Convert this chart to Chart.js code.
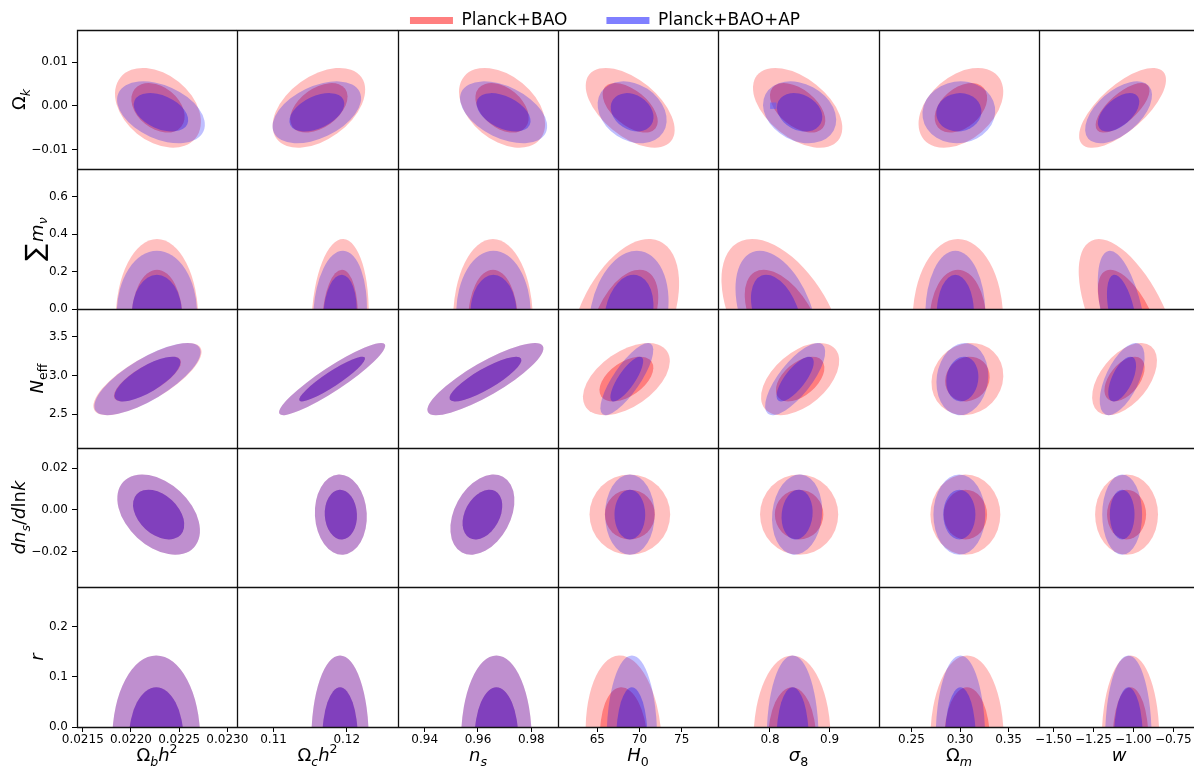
<!DOCTYPE html>
<html lang="en">
<head>
<meta charset="UTF-8">
<title>Planck+BAO vs Planck+BAO+AP</title>
<script src="https://cdn.jsdelivr.net/npm/chart.js"></script>
<style>
  html, body { margin: 0; padding: 0; background: #fff; overflow: hidden; }
  body { width: 1194px; height: 766px; position: relative; }
  canvas { position: absolute; }
</style>
</head>
<body>
<script>
// ---- data ----
const seriesNames = ['Planck+BAO', 'Planck+BAO+AP'];

// columns: Ωbh², Ωch², ns, H0, σ8, Ωm, w
const xMin = [0.02144, 0.1050, 0.93, 60.35, 0.7127, 0.2166, -1.5906];
const xMax = [0.02310, 0.1270, 0.99, 79.30, 0.9830, 0.3813, -0.589];
const xTickVals = [
  [0.0215, 0.0220, 0.0225, 0.0230], [0.11, 0.12], [0.94, 0.96, 0.98],
  [65, 70, 75], [0.8, 0.9], [0.25, 0.30, 0.35], [-1.5, -1.25, -1.0, -0.75]
];
const xTickText = [
  ['0.0215', '0.0220', '0.0225', '0.0230'], ['0.11', '0.12'], ['0.94', '0.96', '0.98'],
  ['65', '70', '75'], ['0.8', '0.9'], ['0.25', '0.30', '0.35'],
  ['\u22121.50', '\u22121.25', '\u22121.00', '\u22120.75']
];

// rows: Ωk, Σmν, Neff, dns/dlnk, r
const yMin = [-0.0145, 0, 2.06, -0.0371, 0];
const yMax = [0.0174, 0.747, 3.862, 0.0297, 0.279];
const yTickVals = [
  [-0.01, 0, 0.01], [0, 0.2, 0.4, 0.6], [2.5, 3.0, 3.5], [-0.02, 0, 0.02], [0, 0.1, 0.2]
];
const yTickText = [
  ['\u22120.01', '0.00', '0.01'], ['0.0', '0.2', '0.4', '0.6'], ['2.5', '3.0', '3.5'],
  ['\u22120.02', '0.00', '0.02'], ['0.0', '0.1', '0.2']
];

// Planck+BAO: means / sigmas / correlations per row (model) and column
const redXMean = [
  [0.022280, 0.11619, 0.96902, 68.90, 0.8464, 0.3009, -1.0675],
  [0.022270, 0.11908, 0.96560, 68.20, 0.8214, 0.2978, -1.027],
  [0.022171, 0.11800, 0.96278, 68.45, 0.8506, 0.3076, -1.055],
  [0.022287, 0.11919, 0.96165, 68.86, 0.8489, 0.3055, -1.0425],
  [0.022262, 0.11908, 0.96690, 68.13, 0.8371, 0.3072, -1.0175]
];
const redXSig = [
  [0.000182, 0.00258, 0.00659, 2.15, 0.0306, 0.0178, 0.111],
  [0.000175, 0.00160, 0.00610, 2.65, 0.0420, 0.0190, 0.1286],
  [0.000229, 0.00296, 0.00888, 2.10, 0.0268, 0.0151, 0.0829],
  [0.000175, 0.00145, 0.00490, 1.95, 0.0268, 0.0147, 0.0804],
  [0.000186, 0.00160, 0.00540, 1.84, 0.0264, 0.0154, 0.0735]
];
const redRho = [
  [-0.35, 0.45, -0.4, -0.55, -0.5, 0.4, 0.7],
  [0, 0.1, 0, 0.45, -0.5, 0, -0.6],
  [0.75, 0.92, 0.85, 0.5, 0.5, 0.1, 0.5],
  [-0.4, -0.05, 0.35, 0, 0, 0, 0],
  [0, 0, 0, -0.1, 0, 0, 0]
];
const redYMean = [-0.00046, -0.058, 2.954, -0.0023, -0.024];
const redYSig = [0.00374, 0.176, 0.191, 0.00787, 0.068];

// Planck+BAO+AP
const blueXMean = [
  [0.022311, 0.11591, 0.96959, 69.13, 0.8497, 0.2988, -1.0925],
  [0.022269, 0.11908, 0.96580, 68.74, 0.8104, 0.2952, -1.071],
  [0.022171, 0.11800, 0.96278, 68.50, 0.8422, 0.3024, -1.07],
  [0.022287, 0.11919, 0.96165, 68.86, 0.8455, 0.2993, -1.07],
  [0.022262, 0.11908, 0.96690, 69.10, 0.8380, 0.3004, -1.031]
];
const blueXSig = [
  [0.000186, 0.00247, 0.00667, 1.67, 0.0251, 0.0153, 0.0855],
  [0.000170, 0.00150, 0.00570, 1.92, 0.0279, 0.0126, 0.062],
  [0.000225, 0.00296, 0.00888, 1.28, 0.0206, 0.0109, 0.0574],
  [0.000175, 0.00145, 0.00490, 1.20, 0.0172, 0.0109, 0.051],
  [0.000186, 0.00160, 0.00540, 1.22, 0.0178, 0.0104, 0.0595]
];
const blueRho = [
  [-0.4, 0.45, -0.45, -0.25, -0.25, 0.05, 0.55],
  [0, 0.1, 0, 0.2, -0.4, 0, -0.5],
  [0.75, 0.92, 0.85, 0.8, 0.75, 0.1, 0.6],
  [-0.4, -0.05, 0.35, 0, 0.1, 0, 0],
  [0, 0, 0, 0, 0, 0, 0]
];
const blueYMean = [-0.00149, -0.025, 2.954, -0.0023, -0.024];
const blueYSig = [0.0029, 0.137, 0.191, 0.00787, 0.068];

// 95% and 68% contour radii
const levels = [2.45, 1.52];

// small blue square in the Ωk–σ8 panel
const blueSquare = [{ x: 0.8055, y: 0.00003 }];

// axis labels (mathtext-like pieces)
const xLabels = [
  [{ t: 'Ω' }, { t: 'b', it: 1, sub: 1 }, { t: 'h', it: 1 }, { t: '2', sup: 1 }],
  [{ t: 'Ω' }, { t: 'c', it: 1, sub: 1 }, { t: 'h', it: 1 }, { t: '2', sup: 1 }],
  [{ t: 'n', it: 1 }, { t: 's', it: 1, sub: 1 }],
  [{ t: 'H', it: 1 }, { t: '0', sub: 1 }],
  [{ t: 'σ', it: 1 }, { t: '8', sub: 1 }],
  [{ t: 'Ω' }, { t: 'm', it: 1, sub: 1 }],
  [{ t: 'w', it: 1 }]
];
const yLabels = [
  [{ t: 'Ω' }, { t: 'k', it: 1, sub: 1 }],
  [{ t: '∑', big: 1 }, { t: 'm', it: 1 }, { t: 'ν', it: 1, sub: 1 }],
  [{ t: 'N', it: 1 }, { t: 'eff', sub: 1 }],
  [{ t: 'dn', it: 1 }, { t: 's', it: 1, sub: 1 }, { t: '/' }, { t: 'd', it: 1 }, { t: 'ln' }, { t: 'k', it: 1 }],
  [{ t: 'r', it: 1 }]
];

// ---- styling / layout ----
const redFills = ['rgba(255,0,0,0.25)', 'rgba(255,0,0,0.35)'];
const blueFills = ['rgba(0,0,255,0.25)', 'rgba(0,0,255,0.32)'];
const legendColors = ['rgba(255,0,0,0.5)', 'rgba(0,0,255,0.5)'];
const FONT = '"DejaVu Sans", sans-serif';
const TICK_SIZE = 12;
const TITLE_SIZE = 18;
const colEdges = [77, 237, 398, 558, 718, 879, 1039, 1199];
const rowEdges = [30, 169, 309, 448, 587, 727];
const M = 25;           // overlap margin round each panel canvas
const Y_AXIS_W = 77;
const X_AXIS_H = 39;

function segStyle(s, size) {
  let sz = size;
  if (s.sub || s.sup) sz = size * 0.7;
  if (s.big) sz = size * 1.4;
  return {
    font: (s.it ? 'italic ' : '') + sz.toFixed(1) + 'px ' + FONT,
    dy: s.sub ? size * 0.25 : (s.sup ? -size * 0.42 : 0),
    gap: s.big ? size * 0.1 : 0
  };
}
function richWidth(ctx, segs, size) {
  let w = 0;
  segs.forEach(s => { const st = segStyle(s, size); ctx.font = st.font; w += ctx.measureText(s.t).width + st.gap; });
  return w;
}
function drawRich(ctx, segs, x, y, size) {
  segs.forEach(s => {
    const st = segStyle(s, size);
    ctx.font = st.font;
    ctx.fillText(s.t, x, y + st.dy);
    x += ctx.measureText(s.t).width + st.gap;
  });
}

// filled gaussian contours, drawn through the chart's scales
const contourPlugin = {
  id: 'contours',
  beforeDatasetsDraw(chart, args, o) {
    const { ctx, chartArea: a, scales: { x, y } } = chart;
    ctx.save();
    ctx.beginPath();
    ctx.rect(a.left, a.top, a.right - a.left, a.bottom - a.top);
    ctx.clip();
    o.fits.forEach(f => {
      const px = x.getPixelForValue(f.mx), py = y.getPixelForValue(f.my);
      const ux = x.getPixelForValue(f.mx + f.sx) - px;
      const uy = y.getPixelForValue(f.my + f.sy) - py;
      const sxx = ux * ux, syy = uy * uy, sxy = f.rho * ux * uy;
      const mid = (sxx + syy) / 2;
      const d = Math.sqrt(((sxx - syy) / 2) ** 2 + sxy * sxy);
      const th = 0.5 * Math.atan2(2 * sxy, sxx - syy);
      levels.forEach((k, i) => {
        ctx.beginPath();
        ctx.ellipse(px, py, k * Math.sqrt(mid + d), k * Math.sqrt(Math.max(mid - d, 0)), th, 0, 2 * Math.PI);
        ctx.fillStyle = f.fills[i];
        ctx.fill();
      });
    });
    ctx.restore();
  }
};

// panel spines and axis titles
const framePlugin = {
  id: 'frame',
  afterDraw(chart, args, o) {
    const { ctx, chartArea: a } = chart;
    ctx.save();
    ctx.strokeStyle = '#111';
    ctx.lineWidth = 1.3;
    ctx.beginPath();
    ctx.moveTo(a.left + 0.5, a.bottom); ctx.lineTo(a.left + 0.5, a.top + 0.5); ctx.lineTo(a.right, a.top + 0.5);
    if (o.right) { ctx.moveTo(a.right - 0.5, a.top); ctx.lineTo(a.right - 0.5, a.bottom); }
    if (o.bottom) { ctx.moveTo(a.left, a.bottom + 0.5); ctx.lineTo(a.right, a.bottom + 0.5); }
    ctx.stroke();

    ctx.fillStyle = '#000';
    ctx.textAlign = 'left';
    ctx.textBaseline = 'alphabetic';
    if (o.xTitle) {
      const w = richWidth(ctx, o.xTitle, TITLE_SIZE);
      drawRich(ctx, o.xTitle, (a.left + a.right) / 2 - w / 2, a.bottom + 34, TITLE_SIZE);
    }
    if (o.yTitle) {
      ctx.font = TICK_SIZE + 'px ' + FONT;
      const lw = Math.max(...chart.scales.y.ticks.map(t => ctx.measureText(t.label).width));
      const base = a.left - 5 - 4 - lw - 6;
      const w = richWidth(ctx, o.yTitle, TITLE_SIZE);
      ctx.translate(base, (a.top + a.bottom) / 2);
      ctx.rotate(-Math.PI / 2);
      drawRich(ctx, o.yTitle, -w / 2, 0, TITLE_SIZE);
    }
    ctx.restore();
  }
};

function makeCanvas(left, top, width, height) {
  const cv = document.createElement('canvas');
  cv.width = width; cv.height = height;
  cv.style.left = left + 'px'; cv.style.top = top + 'px';
  cv.style.width = width + 'px'; cv.style.height = height + 'px';
  document.body.appendChild(cv);
  return cv;
}

function axisOptions(showX, showY, r, c) {
  const tickFont = { family: FONT, size: TICK_SIZE };
  const grid = { display: true, drawOnChartArea: false, drawTicks: true, tickLength: 5, color: '#000', lineWidth: 1 };
  const x = {
    type: 'linear', display: showX, min: xMin[c], max: xMax[c],
    afterBuildTicks: s => { s.ticks = xTickVals[c].map(v => ({ value: v })); },
    ticks: { autoSkip: false, maxRotation: 0, minRotation: 0, padding: 1, color: '#000', font: tickFont,
             callback: (v, i) => xTickText[c][i] },
    grid: grid, border: { display: false }
  };
  const y = {
    type: 'linear', display: showY, min: yMin[r], max: yMax[r],
    afterBuildTicks: s => { s.ticks = yTickVals[r].map(v => ({ value: v })); },
    ticks: { autoSkip: false, padding: 4, color: '#000', font: tickFont,
             callback: (v, i) => yTickText[r][i] },
    grid: grid, border: { display: false }
  };
  if (showX) x.afterFit = s => { s.height = X_AXIS_H; s.paddingLeft = 0; s.paddingRight = 0; };
  if (showY) y.afterFit = s => { s.width = Y_AXIS_W; s.paddingTop = 0; s.paddingBottom = 0; };
  return { x, y };
}

for (let r = 0; r < 5; r++) {
  for (let c = 0; c < 7; c++) {
    const showX = r === 4, showY = c === 0;
    const left = showY ? colEdges[0] - Y_AXIS_W : colEdges[c] - M;
    const top = rowEdges[r] - M;
    const right = colEdges[c + 1] + M;
    const bottom = showX ? rowEdges[5] + X_AXIS_H : rowEdges[r + 1] + M;
    const cv = makeCanvas(left, top, right - left, bottom - top);

    const fits = [
      { mx: redXMean[r][c], my: redYMean[r], sx: redXSig[r][c], sy: redYSig[r], rho: redRho[r][c], fills: redFills },
      { mx: blueXMean[r][c], my: blueYMean[r], sx: blueXSig[r][c], sy: blueYSig[r], rho: blueRho[r][c], fills: blueFills }
    ];
    const datasets = [];
    if (r === 0 && c === 4) {
      datasets.push({ data: blueSquare, pointStyle: 'rect', pointRadius: 4.5, borderWidth: 0,
                      backgroundColor: 'rgba(90,90,255,0.55)' });
    }

    new Chart(cv, {
      type: 'scatter',
      data: { datasets },
      options: {
        responsive: false,
        animation: false,
        devicePixelRatio: 1,
        events: [],
        layout: { padding: { left: showY ? 0 : M, right: M, top: M, bottom: showX ? 0 : M } },
        scales: axisOptions(showX, showY, r, c),
        plugins: {
          legend: { display: false },
          tooltip: { enabled: false },
          contours: { fits },
          frame: { right: c === 6, bottom: r === 4,
                   xTitle: showX ? xLabels[c] : null, yTitle: showY ? yLabels[r] : null }
        }
      },
      plugins: [contourPlugin, framePlugin]
    });
  }
}

// legend across the top
const legCanvas = makeCanvas(305, -27, 600, 200);
new Chart(legCanvas, {
  type: 'line',
  data: {
    labels: [''],
    datasets: seriesNames.map((name, i) => ({
      label: name, data: [null], backgroundColor: legendColors[i], borderColor: legendColors[i], borderWidth: 0
    }))
  },
  options: {
    responsive: false,
    animation: false,
    devicePixelRatio: 1,
    events: [],
    scales: { x: { display: false }, y: { display: false } },
    plugins: {
      tooltip: { enabled: false },
      legend: {
        display: true, position: 'top',
        labels: { boxWidth: 43, boxHeight: 7, padding: 39, color: '#000', font: { family: FONT, size: 17 } }
      }
    }
  }
});
</script>
</body>
</html>
